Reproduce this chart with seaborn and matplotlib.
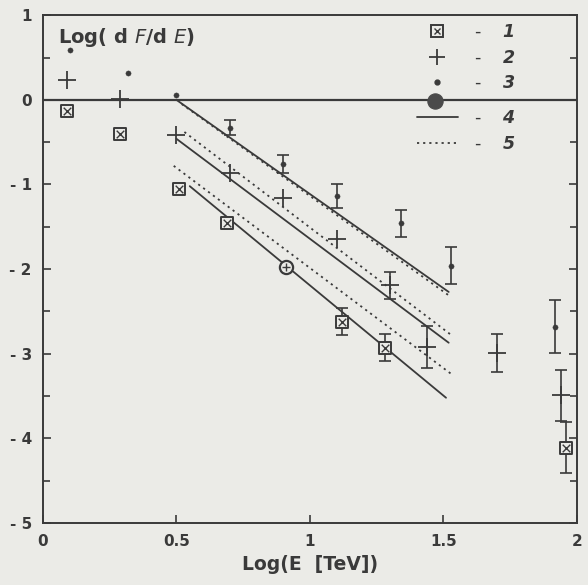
import numpy as np
import pandas as pd
import matplotlib
matplotlib.use("Agg")
import matplotlib.pyplot as plt
import seaborn as sns
from matplotlib.lines import Line2D
from matplotlib.legend_handler import HandlerTuple

# -------------------------------
# Data: Log(E [TeV]) vs Log(dF/dE)
# -------------------------------
# series 1 (crossed squares)
x1 = [0.09, 0.29, 0.51, 0.69, 1.12, 1.28, 1.96]
y1 = [-0.13, -0.40, -1.05, -1.46, -2.62, -2.93, -4.11]
e1 = [0, 0, 0, 0, 0.16, 0.16, 0.30]
# crossed circle point
xc = [0.91]
yc = [-1.98]
# series 2 (plus)
x2 = [0.09, 0.29, 0.50, 0.70, 0.90, 1.10, 1.30, 1.44, 1.70, 1.94]
y2 = [0.23, 0.01, -0.42, -0.87, -1.16, -1.64, -2.19, -2.92, -2.99, -3.49]
e2 = [0, 0, 0, 0, 0, 0, 0.16, 0.25, 0.22, 0.30]
# series 3 (small dots)
x3 = [0.10, 0.32, 0.50, 0.70, 0.90, 1.10, 1.34, 1.53, 1.92]
y3 = [0.59, 0.32, 0.06, -0.33, -0.76, -1.14, -1.46, -1.96, -2.68]
e3 = [0, 0, 0, 0.09, 0.11, 0.14, 0.16, 0.22, 0.31]
# big filled circle next to the legend
xb = [1.47]
yb = [-0.01]

# fitted lines: 4 = solid, 5 = dotted (three of each)
line4_x = [[0.50, 1.52], [0.50, 1.52], [0.55, 1.51]]
line4_y = [[0.00, -2.27], [-0.46, -2.87], [-1.02, -3.52]]
line5_x = [[0.52, 1.52], [0.53, 1.53], [0.49, 1.53]]
line5_y = [[-0.05, -2.31], [-0.38, -2.78], [-0.78, -3.24]]

legend_labels = ["1", "2", "3", "4", "5"]

# -------------------------------
# Plot
# -------------------------------
sns.set_style("ticks")
plt.rcParams['font.family'] = ['DejaVu Sans']
ink = "#3a3a3a"
paper = "#ebebe7"

fig = plt.figure(figsize=(5.88, 5.85), dpi=100, facecolor=paper)
ax = fig.add_axes([0.073, 0.106, 0.908, 0.868], facecolor=paper)

# zero line
ax.axhline(0, color=ink, lw=1.6, zorder=1)

# fitted lines
for i in range(3):
    d4 = pd.DataFrame({"x": line4_x[i], "y": line4_y[i]})
    sns.lineplot(data=d4, x="x", y="y", ax=ax, color=ink, lw=1.3)
    d5 = pd.DataFrame({"x": line5_x[i], "y": line5_y[i]})
    sns.lineplot(data=d5, x="x", y="y", ax=ax, color=ink, lw=1.3,
                 linestyle=(0, (1.2, 2.2)))

# error bars
for xs, ys, es in [(x1, y1, e1), (x2, y2, e2), (x3, y3, e3)]:
    xs, ys, es = np.array(xs), np.array(ys), np.array(es)
    m = es > 0
    ax.errorbar(xs[m], ys[m], yerr=es[m], fmt="none", ecolor=ink,
                elinewidth=1.2, capsize=4, capthick=1.2, zorder=2)

# series 1: crossed squares
d1 = pd.DataFrame({"x": x1, "y": y1})
sns.scatterplot(data=d1, x="x", y="y", ax=ax, marker="s", s=70,
                facecolor=paper, edgecolor=ink, linewidth=1.4, zorder=3)
sns.scatterplot(data=d1, x="x", y="y", ax=ax, marker="x", s=30,
                color=ink, linewidth=1.0, zorder=4)
# crossed circle
dc = pd.DataFrame({"x": xc, "y": yc})
sns.scatterplot(data=dc, x="x", y="y", ax=ax, marker="o", s=90,
                facecolor=paper, edgecolor=ink, linewidth=1.6, zorder=3)
sns.scatterplot(data=dc, x="x", y="y", ax=ax, marker="+", s=40,
                color=ink, linewidth=1.0, zorder=4)
# series 2: plus
d2 = pd.DataFrame({"x": x2, "y": y2})
sns.scatterplot(data=d2, x="x", y="y", ax=ax, marker="+", s=170,
                color=ink, linewidth=1.3, zorder=3)
# series 3: dots
d3 = pd.DataFrame({"x": x3, "y": y3})
sns.scatterplot(data=d3, x="x", y="y", ax=ax, marker="o", s=14,
                color=ink, edgecolor=ink, zorder=3)
# big circle
db = pd.DataFrame({"x": xb, "y": yb})
sns.scatterplot(data=db, x="x", y="y", ax=ax, marker="o", s=120,
                color="#4a4a4a", edgecolor="#4a4a4a", zorder=3)

# axes
ax.set_xlim(0, 2)
ax.set_ylim(-5, 1)
ax.set_xticks([0, 0.5, 1, 1.5, 2])
ax.set_xticklabels(["0", "0.5", "1", "1.5", "2"])
ax.set_yticks([1, 0, -1, -2, -3, -4, -5])
ax.set_yticklabels(["1", "0", "- 1", "- 2", "- 3", "- 4", "- 5"])
ax.set_yticks(np.arange(-5, 1.01, 0.5), minor=True)
ax.tick_params(axis="both", which="major", direction="in", length=6,
               width=1.2, color=ink, labelcolor=ink, labelsize=11, pad=8,
               right=True, top=False)
ax.tick_params(axis="y", which="minor", direction="in", length=5,
               width=1.2, color=ink, right=True, left=True)
for lab in ax.get_xticklabels() + ax.get_yticklabels():
    lab.set_fontweight("bold")
for sp in ax.spines.values():
    sp.set_color(ink)
    sp.set_linewidth(1.4)

ax.set_xlabel("Log(E  [TeV])", fontsize=13.5, fontweight="bold", color=ink,
              labelpad=4)
ax.set_ylabel("")
ax.text(0.028, 0.978, "Log( d $\\mathit{F}$/d $\\mathit{E}$)", transform=ax.transAxes,
        fontsize=14, fontweight="bold", color=ink, va="top", ha="left")

# legend (two blocks, the big circle sits between them)
h1 = (Line2D([], [], ls="none", marker="s", ms=8, mfc=paper, mec=ink, mew=1.4),
      Line2D([], [], ls="none", marker="x", ms=5, mec=ink, mew=1.0))
h2 = Line2D([], [], ls="none", marker="+", ms=12, mec=ink, mew=1.3)
h3 = Line2D([], [], ls="none", marker="o", ms=3.5, mfc=ink, mec=ink)
h4 = Line2D([], [], color=ink, lw=1.3)
h5 = Line2D([], [], color=ink, lw=1.3, linestyle=(0, (1.2, 2.2)))
labels = ["-    $\\mathbfit{" + s + "}$" for s in legend_labels]
leg_kw = dict(loc="upper right", frameon=False, fontsize=12.5,
              labelspacing=0.45, handlelength=2.4, handletextpad=0.9,
              handler_map={tuple: HandlerTuple(ndivide=1, pad=0)},
              labelcolor=ink, borderpad=0, borderaxespad=0)
leg1 = ax.legend([h1, h2, h3], labels[:3], bbox_to_anchor=(0.885, 0.985), **leg_kw)
ax.add_artist(leg1)
ax.legend([h4, h5], labels[3:], bbox_to_anchor=(0.885, 0.815), **leg_kw)

fig.savefig("out.png", dpi=100, facecolor=paper)
